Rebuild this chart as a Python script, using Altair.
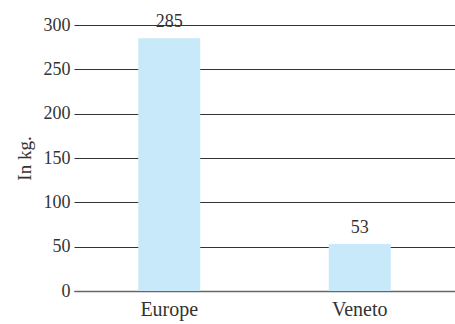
import altair as alt
import pandas as pd

regions = ["Europe", "Veneto"]
values = [285, 53]

df = pd.DataFrame({"region": regions, "value": values})

FONT = "Liberation Serif"

base = alt.Chart(df).encode(
    x=alt.X("region:N", sort=regions,
            scale=alt.Scale(paddingInner=0, paddingOuter=0),
            axis=alt.Axis(title=None, labelAngle=0, ticks=False, domain=True,
                          domainColor="#666", domainWidth=1.5,
                          labelFont=FONT, labelFontSize=20, labelColor="#333",
                          labelPadding=8, grid=False)),
)

bars = base.mark_bar(size=62, color="#c8e9f9").encode(
    y=alt.Y("value:Q", scale=alt.Scale(domain=[0, 300], nice=False),
            axis=alt.Axis(title="In kg.", values=[0, 50, 100, 150, 200, 250, 300],
                          ticks=False, domain=False, grid=True,
                          gridColor="#333", gridWidth=1,
                          labelFont=FONT, labelFontSize=18, labelColor="#333",
                          labelPadding=4,
                          titleFont=FONT, titleFontSize=19, titleFontWeight="normal",
                          titleColor="#333", titlePadding=9))
)

labels = base.mark_text(font=FONT, fontSize=18, color="#333", baseline="bottom", dy=-7).encode(
    y=alt.Y("value:Q"),
    text=alt.Text("value:Q"),
)

chart = alt.layer(bars, labels).properties(
    width=381, height=266,
    autosize=alt.AutoSizeParams(type="none"),
    padding={"left": 74, "top": 25, "right": 0, "bottom": 33},
).configure_view(stroke=None).configure_axis(gridOpacity=1)

chart.save("out.html", embed_options={"renderer": "svg", "actions": False})
